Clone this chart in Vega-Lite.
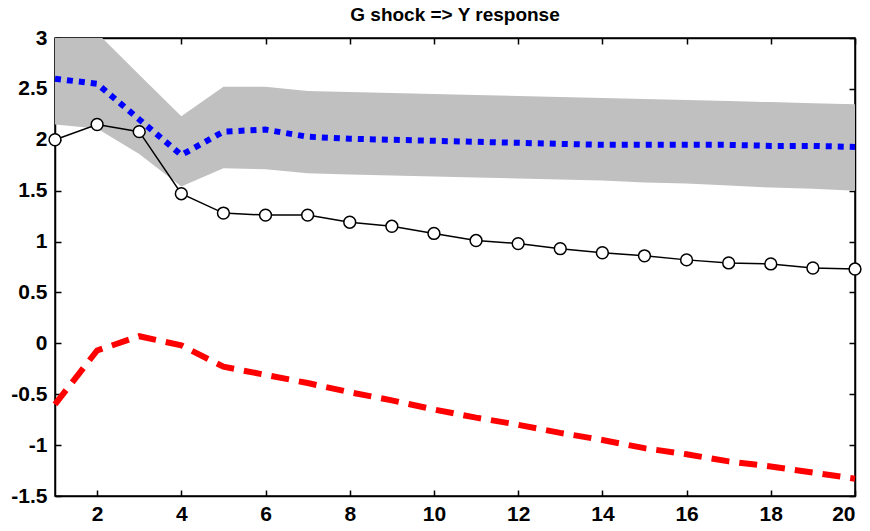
{
  "$schema": "https://vega.github.io/schema/vega-lite/v6.json",
  "width": 800,
  "height": 458,
  "autosize": {"type": "none"},
  "padding": {"left": 55, "top": 38, "right": 15, "bottom": 35},
  "background": "white",
  "title": {"text": "G shock => Y response", "font": "Liberation Sans", "fontWeight": "bold", "fontSize": 19, "offset": 2, "color": "black"},
  "config": {
    "view": {"stroke": "black", "strokeWidth": 1.5},
    "axis": {"labelFont": "Liberation Sans", "labelFontWeight": "bold", "labelFontSize": 21, "labelColor": "black", "domainColor": "black", "tickColor": "black", "grid": false, "title": null, "tickSize": -6, "domainWidth": 1.5, "tickWidth": 1.5}
  },
  "resolve": {"axis": {"x": "independent", "y": "independent"}},
  "data": {"values": [
    {"t": 1, "y": 2.0, "mid": 2.6, "lo": 2.15, "hi": 3.05, "red": -0.6},
    {"t": 2, "y": 2.15, "mid": 2.55, "lo": 2.11, "hi": 3.05, "red": -0.07},
    {"t": 3, "y": 2.08, "mid": 2.2, "lo": 1.86, "hi": 2.64, "red": 0.07},
    {"t": 4, "y": 1.47, "mid": 1.85, "lo": 1.54, "hi": 2.23, "red": -0.02},
    {"t": 5, "y": 1.28, "mid": 2.08, "lo": 1.72, "hi": 2.52, "red": -0.23},
    {"t": 6, "y": 1.26, "mid": 2.1, "lo": 1.71, "hi": 2.52, "red": -0.31},
    {"t": 7, "y": 1.26, "mid": 2.03, "lo": 1.67, "hi": 2.48, "red": -0.39},
    {"t": 8, "y": 1.19, "mid": 2.01, "lo": 1.66, "hi": 2.47, "red": -0.48},
    {"t": 9, "y": 1.15, "mid": 2.0, "lo": 1.65, "hi": 2.46, "red": -0.56},
    {"t": 10, "y": 1.08, "mid": 1.99, "lo": 1.64, "hi": 2.45, "red": -0.65},
    {"t": 11, "y": 1.01, "mid": 1.98, "lo": 1.63, "hi": 2.44, "red": -0.73},
    {"t": 12, "y": 0.98, "mid": 1.97, "lo": 1.62, "hi": 2.43, "red": -0.8},
    {"t": 13, "y": 0.93, "mid": 1.96, "lo": 1.61, "hi": 2.42, "red": -0.88},
    {"t": 14, "y": 0.89, "mid": 1.95, "lo": 1.6, "hi": 2.41, "red": -0.95},
    {"t": 15, "y": 0.86, "mid": 1.95, "lo": 1.58, "hi": 2.4, "red": -1.03},
    {"t": 16, "y": 0.82, "mid": 1.95, "lo": 1.57, "hi": 2.39, "red": -1.09},
    {"t": 17, "y": 0.79, "mid": 1.95, "lo": 1.55, "hi": 2.38, "red": -1.16},
    {"t": 18, "y": 0.78, "mid": 1.94, "lo": 1.53, "hi": 2.37, "red": -1.21},
    {"t": 19, "y": 0.74, "mid": 1.94, "lo": 1.52, "hi": 2.36, "red": -1.27},
    {"t": 20, "y": 0.73, "mid": 1.93, "lo": 1.5, "hi": 2.35, "red": -1.33}
  ]},
  "layer": [
    {
      "mark": {"type": "area", "color": "#c0c0c0", "opacity": 1, "clip": true},
      "encoding": {
        "x": {"field": "t", "type": "quantitative", "scale": {"domain": [1, 20], "nice": false, "zero": false},
              "axis": {"orient": "bottom", "values": [2, 4, 6, 8, 10, 12, 14, 16, 18, 20], "labelPadding": 13, "labelOverlap": false}},
        "y": {"field": "lo", "type": "quantitative", "scale": {"domain": [-1.5, 3], "nice": false, "zero": false},
              "axis": {"orient": "left", "values": [-1.5, -1, -0.5, 0, 0.5, 1, 1.5, 2, 2.5, 3], "format": "~g", "labelExpr": "replace(datum.label, '\u2212', '-')", "labelPadding": 14, "labelOverlap": false}},
        "y2": {"field": "hi"}
      }
    },
    {
      "mark": {"type": "line", "color": "blue", "strokeWidth": 6, "strokeDash": [6, 6]},
      "encoding": {
        "x": {"field": "t", "type": "quantitative", "axis": null},
        "y": {"field": "mid", "type": "quantitative", "axis": null}
      }
    },
    {
      "mark": {"type": "line", "color": "red", "strokeWidth": 6, "strokeDash": [18, 10]},
      "encoding": {
        "x": {"field": "t", "type": "quantitative", "axis": null},
        "y": {"field": "red", "type": "quantitative", "axis": null}
      }
    },
    {
      "mark": {"type": "line", "color": "black", "strokeWidth": 1.5},
      "encoding": {
        "x": {"field": "t", "type": "quantitative", "axis": null},
        "y": {"field": "y", "type": "quantitative", "axis": null}
      }
    },
    {
      "mark": {"type": "point", "filled": true, "fill": "white", "stroke": "black", "strokeWidth": 1.5, "size": 140, "opacity": 1},
      "encoding": {
        "x": {"field": "t", "type": "quantitative", "axis": {"orient": "top", "values": [2, 4, 6, 8, 10, 12, 14, 16, 18, 20], "labels": false}},
        "y": {"field": "y", "type": "quantitative", "axis": {"orient": "right", "values": [-1.5, -1, -0.5, 0, 0.5, 1, 1.5, 2, 2.5, 3], "labels": false}}
      }
    }
  ]
}
